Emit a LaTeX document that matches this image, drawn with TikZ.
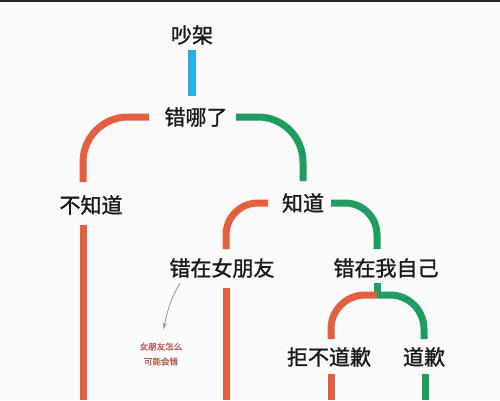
\documentclass[tikz,border=0pt]{standalone}
\usepackage{fontspec}
\newfontfamily\cjk{Noto Sans CJK SC}[FakeBold=1.3]
\newfontfamily\cjknote{Noto Sans CJK SC}[FakeBold=0.8]
\usetikzlibrary{arrows.meta,calc}
\definecolor{lorange}{HTML}{E2603F}
\definecolor{lgreen}{HTML}{1F9C5F}
\definecolor{lblue}{HTML}{2AABE2}
\definecolor{notecol}{HTML}{B5584A}
\definecolor{arrowcol}{HTML}{8A8A8A}
\tikzset{
  lbl/.style={inner sep=0pt, font=\cjk\fontsize{21}{24}\selectfont, text=black!90},
  note/.style={inner sep=0pt, align=center, font=\cjknote\fontsize{8.5}{15}\selectfont, text=notecol},
  orangeline/.style={draw=lorange, line width=7pt},
  greenline/.style={draw=lgreen, line width=7pt},
  blueline/.style={draw=lblue, line width=8pt},
  pointer/.style={draw=arrowcol, line width=0.7pt, -{Stealth[length=7pt,width=4pt,color=notecol!70]}}
}
\begin{document}
\begin{tikzpicture}[x=1pt,y=-1pt]
\useasboundingbox (0,0) rectangle (500,400);
\fill[white!98!black] (0,0) rectangle (500,400);
\fill[black!85] (0,0) rectangle (500,1.8);

% labels
\node[lbl] (chaojia) at (192,35) {吵架};
\node[lbl] (cuo) at (196,117) {错哪了};
\node[lbl] (bu) at (91,205) {不知道};
\node[lbl] (zhidao) at (303,203) {知道};
\node[lbl] (nvpy) at (222,268) {错在女朋友};
\node[lbl] (wzj) at (386,268) {错在我自己};
\node[lbl] (jbd) at (329,357) {拒不道歉};
\node[lbl] (daoqian) at (424,357) {道歉};
\node[note] (nt) at (161,354) {女朋友怎么\\可能会错};

% free ends
\coordinate (b1) at (83,400);
\coordinate (b2) at (226,400);
\coordinate (b3) at (331,400);
\coordinate (b4) at (425,400);
\coordinate (split) at (377,295);

% connectors
\draw[blueline, shorten <=15pt, shorten >=21pt] (chaojia.center) -- (chaojia.center |- cuo.center);
\draw[orangeline, rounded corners=45pt, shorten >=23pt] ([xshift=-47pt]cuo.center) -| ([xshift=-8pt]bu.center);
\draw[greenline, rounded corners=45pt, shorten >=22pt] ([xshift=40pt]cuo.center) -| (zhidao.center);
\draw[orangeline, shorten <=20pt] (bu.center -| b1) -- (b1);

\draw[orangeline, rounded corners=32pt, shorten >=19pt] ([xshift=-35pt]zhidao.center) -| ([xshift=4pt]nvpy.center);
\draw[greenline, rounded corners=32pt, shorten >=19pt] ([xshift=28pt]zhidao.center) -| ([xshift=-9pt]wzj.center);
\draw[orangeline, shorten <=20pt] (nvpy.center -| b2) -- (b2);

\draw[greenline, shorten <=15pt] (wzj.center -| split) -- ([shift={(0,2)}]split);
\draw[orangeline, rounded corners=34pt, shorten >=18pt] (split) -| ([xshift=2pt]jbd.center);
\draw[greenline, rounded corners=34pt, shorten >=18pt] (split) -| (daoqian.center);
\draw[orangeline, shorten <=17pt] (jbd.center -| b3) -- (b3);
\draw[greenline, shorten <=17pt] (daoqian.center -| b4) -- (b4);

% annotation arrow
\draw[pointer, shorten >=13pt] ([shift={(-42,15)}]nvpy.center) .. controls (171,298) and (167,312) .. (nt.north);
\end{tikzpicture}
\end{document}
